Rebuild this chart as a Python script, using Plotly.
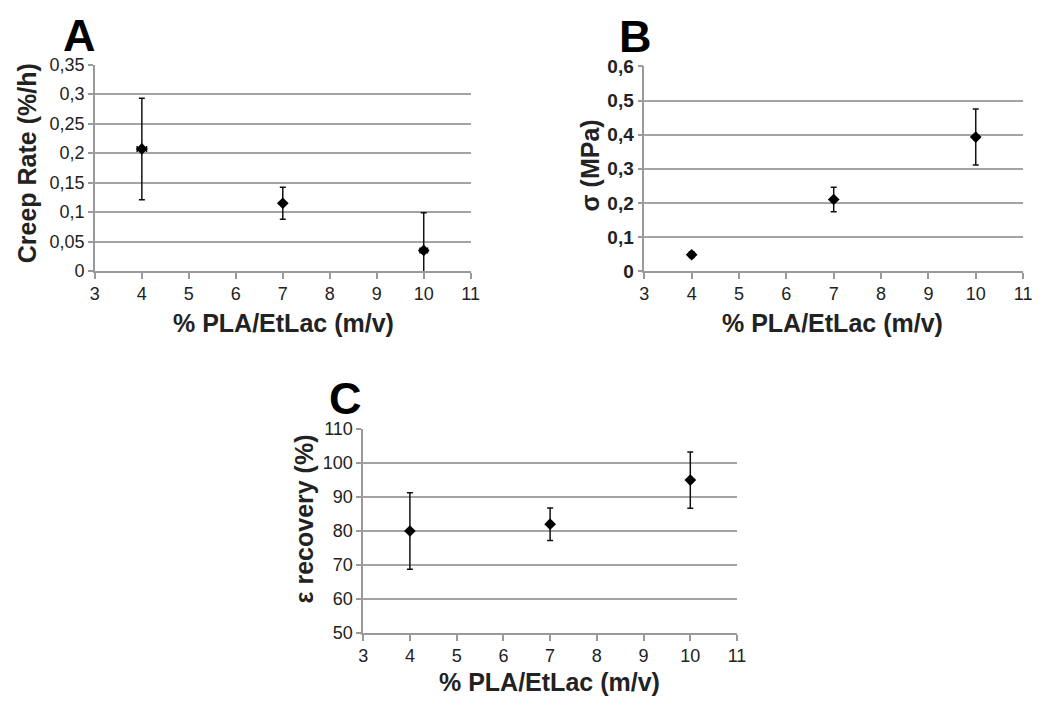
import plotly.graph_objects as go

# Page body has an 8px margin; keep the figure inside the 1047x710 window
OFF = 8
W, H = 1047 - 2 * OFF, 710 - 2 * OFF

# Data
conc = [4, 7, 10]

creep_rate = [0.207, 0.115, 0.035]
creep_err = [0.086, 0.027, 0.064]
creep_xerr = [0.1, 0.0, 0.08]

sigma = [0.048, 0.21, 0.393]
sigma_err = [0.008, 0.036, 0.082]

recovery = [80.0, 82.0, 95.0]
recovery_err = [11.3, 4.8, 8.3]

x_ticks = [3, 4, 5, 6, 7, 8, 9, 10, 11]
a_ticks = [0, 0.05, 0.1, 0.15, 0.2, 0.25, 0.3, 0.35]
b_ticks = [0, 0.1, 0.2, 0.3, 0.4, 0.5, 0.6]
c_ticks = [50, 60, 70, 80, 90, 100, 110]

FONT = "Liberation Sans, Arial, sans-serif"
GRID = "#a3a3a3"
AXIS = "#9a9a9a"


def px_x(p):
    return (p - OFF) / W


def px_y(p):
    return 1 - (p - OFF) / H


marker = dict(symbol="diamond", size=9, color="black")
err_style = dict(type="data", color="#111111", thickness=1.5, width=3)

fig = go.Figure()
fig.add_trace(go.Scatter(
    x=conc, y=creep_rate, mode="markers", marker=marker,
    error_y=dict(array=creep_err, **err_style),
    error_x=dict(array=creep_xerr, **err_style),
    xaxis="x", yaxis="y", showlegend=False))
fig.add_trace(go.Scatter(
    x=conc, y=sigma, mode="markers", marker=marker,
    error_y=dict(array=sigma_err, **err_style),
    xaxis="x2", yaxis="y2", showlegend=False))
fig.add_trace(go.Scatter(
    x=conc, y=recovery, mode="markers", marker=marker,
    error_y=dict(array=recovery_err, **err_style),
    xaxis="x3", yaxis="y3", showlegend=False))

common_x = dict(range=[3, 11], tickvals=x_ticks, showgrid=False, zeroline=False,
                showline=True, linecolor=AXIS, linewidth=1.5, ticks="outside",
                ticklen=6, tickcolor=AXIS, tickwidth=1.5,
                tickfont=dict(family=FONT, size=18, color="#222222"))
common_y = dict(showgrid=True, gridcolor=GRID, gridwidth=1.5, zeroline=False,
                showline=True, linecolor=AXIS, linewidth=1.5, ticks="outside",
                ticklen=5, tickcolor=AXIS, tickwidth=1.5)

fig.update_layout(
    width=W, height=H,
    margin=dict(l=0, r=0, t=0, b=0),
    paper_bgcolor="white", plot_bgcolor="white",
    separators=", ",
    xaxis=dict(domain=[px_x(91), px_x(472)], anchor="y", **common_x),
    yaxis=dict(domain=[px_y(269), px_y(56)], anchor="x", range=[0, 0.35],
               tickvals=a_ticks, tickfont=dict(family=FONT, size=18, color="#222222"),
               **common_y),
    xaxis2=dict(domain=[px_x(648), px_x(1032)], anchor="y2", **common_x),
    yaxis2=dict(domain=[px_y(269), px_y(58)], anchor="x2", range=[0, 0.6],
                tickvals=b_ticks,
                tickfont=dict(family=FONT, size=19, color="#222222", weight="bold"),
                **common_y),
    xaxis3=dict(domain=[px_x(363), px_x(742)], anchor="y3", **common_x),
    yaxis3=dict(domain=[px_y(642), px_y(432)], anchor="x3", range=[50, 110],
                tickvals=c_ticks, tickfont=dict(family=FONT, size=18, color="#222222"),
                **common_y),
)

title_font = dict(family=FONT, size=25, color="#222222", weight="bold")
letter_font = dict(family=FONT, size=45, color="black", weight="bold")

annots = [
    ("A", 75, 26, 0, letter_font),
    ("B", 639, 27, 0, letter_font),
    ("C", 345, 400, 0, letter_font),
    ("% PLA/EtLac (m/v)", 282, 323, 0, title_font),
    ("% PLA/EtLac (m/v)", 839, 323, 0, title_font),
    ("% PLA/EtLac (m/v)", 552, 693, 0, title_font),
    ("Creep Rate (%/h)", 23, 158, -90, title_font),
    ("σ (MPa)", 593, 160, -90, title_font),
    ("ε recovery (%)", 303, 524, -90, title_font),
]
for text, x, y, ang, f in annots:
    fig.add_annotation(text=text, x=px_x(x), y=px_y(y), xref="paper", yref="paper",
                       xanchor="center", yanchor="middle", showarrow=False,
                       textangle=ang, font=f)

fig.write_html("out.html")
